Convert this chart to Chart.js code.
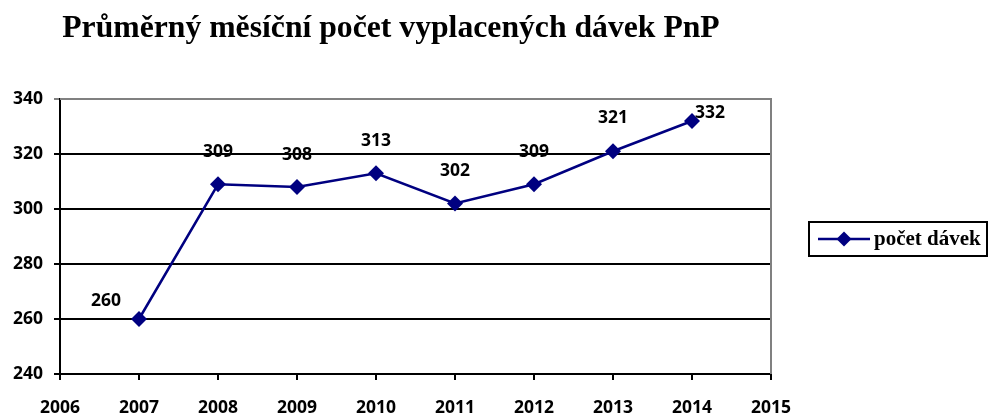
<!DOCTYPE html>
<html lang="cs">
<head>
<meta charset="utf-8">
<title>Průměrný měsíční počet vyplacených dávek PnP</title>
<script src="https://cdn.jsdelivr.net/npm/chart.js@4.4.1/dist/chart.umd.min.js"></script>
<style>
    html, body { margin: 0; padding: 0; background: #fff; }
    #wrap { position: relative; width: 990px; height: 416px; }
    #title {
        position: absolute; left: 0; top: 0; width: 782px; text-align: center;
        font: bold 31.7px "Liberation Serif", "Times New Roman", serif;
        line-height: 32px; padding-top: 11px; color: #000;
    }
</style>
</head>
<body>
<div id="wrap">
    <div id="title">Průměrný měsíční počet vyplacených dávek PnP</div>
    <canvas id="chart" width="990" height="416"></canvas>
</div>
<script>
// data
const years = [2007, 2008, 2009, 2010, 2011, 2012, 2013, 2014];
const davky = [260, 309, 308, 313, 302, 309, 321, 332];
const yTicks = [240, 260, 280, 300, 320, 340];
const xTicks = [2006, 2007, 2008, 2009, 2010, 2011, 2012, 2013, 2014, 2015];

const navy = '#000080';
const tickFont = { family: '"Open Sans", sans-serif', size: 17.5, weight: 'bold' };

// popisky hodnot nad body (posun v px)
const labelOffsets = [[-33, -20], [0, -34], [0, -34], [0, -34], [0, -34], [0, -34], [0, -35], [18, -10]];

const valueLabels = {
    id: 'valueLabels',
    afterDatasetsDraw(chart) {
        const ctx = chart.ctx;
        const meta = chart.getDatasetMeta(0);
        ctx.save();
        ctx.font = 'bold 17.5px "Open Sans", sans-serif';
        ctx.fillStyle = '#000';
        ctx.textAlign = 'center';
        ctx.textBaseline = 'alphabetic';
        meta.data.forEach((pt, i) => {
            const off = labelOffsets[i] || [0, -34];
            ctx.fillText(String(chart.data.datasets[0].data[i].y), pt.x + off[0], pt.y + off[1] + 6.5);
        });
        ctx.restore();
    }
};

// šedý rámeček plochy grafu nahoře a vpravo
const plotFrame = {
    id: 'plotFrame',
    beforeDatasetsDraw(chart) {
        const a = chart.chartArea;
        const ctx = chart.ctx;
        ctx.save();
        ctx.strokeStyle = '#808080';
        ctx.lineWidth = 2;
        ctx.beginPath();
        ctx.moveTo(a.left, a.top);
        ctx.lineTo(a.right, a.top);
        ctx.lineTo(a.right, a.bottom);
        ctx.stroke();
        ctx.restore();
    }
};

// legenda v rámečku vpravo
const boxLegend = {
    id: 'boxLegend',
    afterDraw(chart) {
        const ctx = chart.ctx;
        const ds = chart.data.datasets[0];
        const x = 809, y = 222, w = 178, h = 34;
        ctx.save();
        ctx.strokeStyle = '#000';
        ctx.lineWidth = 2;
        ctx.strokeRect(x, y, w, h);
        const cy = y + h / 2;
        ctx.strokeStyle = ds.borderColor;
        ctx.lineWidth = 2.5;
        ctx.beginPath();
        ctx.moveTo(x + 9, cy);
        ctx.lineTo(x + 61, cy);
        ctx.stroke();
        ctx.fillStyle = ds.pointBackgroundColor;
        ctx.beginPath();
        ctx.moveTo(x + 35 - 7.5, cy);
        ctx.lineTo(x + 35, cy - 7.5);
        ctx.lineTo(x + 35 + 7.5, cy);
        ctx.lineTo(x + 35, cy + 7.5);
        ctx.closePath();
        ctx.fill();
        ctx.fillStyle = '#000';
        ctx.font = 'bold 21px "Liberation Serif", serif';
        ctx.textBaseline = 'middle';
        ctx.fillText(ds.label, x + 65, cy + 1);
        ctx.restore();
    }
};

new Chart(document.getElementById('chart'), {
    type: 'line',
    data: {
        datasets: [{
            label: 'počet dávek',
            data: years.map((r, i) => ({ x: r, y: davky[i] })),
            borderColor: navy,
            borderWidth: 2.5,
            pointStyle: 'rectRot',
            pointRadius: 8,
            pointBackgroundColor: navy,
            pointBorderColor: navy,
            pointBorderWidth: 0,
            tension: 0
        }]
    },
    options: {
        responsive: false,
        animation: false,
        layout: { padding: { left: 0, top: 99, right: 219, bottom: 0 } },
        plugins: {
            legend: { display: false },
            tooltip: { enabled: false }
        },
        scales: {
            x: {
                type: 'linear',
                min: 2006,
                max: 2015,
                afterBuildTicks: (s) => { s.ticks = xTicks.map(v => ({ value: v })); },
                afterFit: (s) => { s.height = 42; },
                grid: { drawOnChartArea: false, drawTicks: true, tickLength: 6, color: '#000', lineWidth: 2 },
                border: { color: '#000', width: 2 },
                ticks: { font: tickFont, color: '#000', padding: 18, maxRotation: 0, callback: (v) => String(v) }
            },
            y: {
                min: 240,
                max: 340,
                afterBuildTicks: (s) => { s.ticks = yTicks.map(v => ({ value: v })); },
                afterFit: (s) => { s.width = 60; },
                grid: {
                    color: (c) => c.tick && c.tick.value === 340 ? '#808080' : '#000',
                    lineWidth: 2,
                    tickLength: 6
                },
                border: { color: '#000', width: 2 },
                ticks: { font: tickFont, color: '#000', padding: 11 }
            }
        }
    },
    plugins: [plotFrame, valueLabels, boxLegend]
});
</script>
</body>
</html>
